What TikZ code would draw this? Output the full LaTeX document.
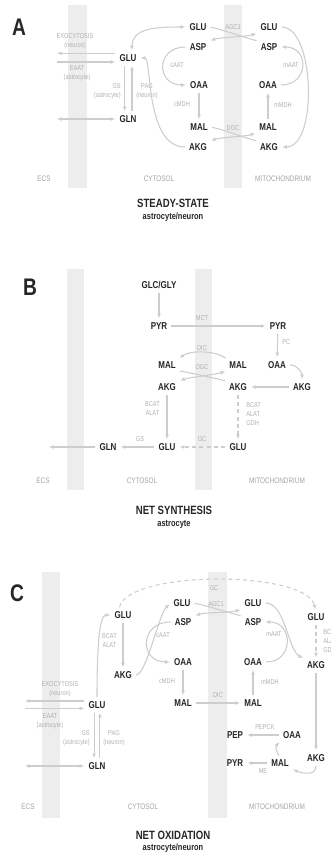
\documentclass[tikz,border=0pt]{standalone}
\usepackage{fontspec}
\setmainfont{Liberation Sans}[FakeStretch=0.8]
\usepackage{xcolor}
\usetikzlibrary{arrows.meta}
\definecolor{bandgray}{HTML}{EDEDED}
\definecolor{linegray}{HTML}{CDCDCD}
\definecolor{enzgray}{HTML}{B0B0B0}
\definecolor{compgray}{HTML}{A4A4A4}
\definecolor{metblack}{HTML}{262626}

\begin{document}
\begin{tikzpicture}[
        x=0.75pt, y=-0.75pt,
        met/.style={inner sep=1.5pt, text=metblack, font=\fontsize{7.5}{8}\selectfont\bfseries},
        enz/.style={inner sep=0pt, text=enzgray, align=center, font=\fontsize{5.3}{6.75}\selectfont},
        comp/.style={inner sep=0pt, text=compgray, font=\fontsize{6}{7}\selectfont},
        band/.style={fill=bandgray, draw=none},
        letter/.style={inner sep=0pt, text=metblack, font=\fontsize{18}{20}\selectfont\bfseries},
        heading/.style={inner sep=0pt, text=metblack, font=\fontsize{9}{10}\selectfont\bfseries},
        subheading/.style={inner sep=0pt, text=metblack, font=\fontsize{7}{8}\selectfont\bfseries},
        arrow/.style={->, >={Latex[length=3.5pt,width=3pt]}, draw=linegray, line width=0.8pt, shorten >=1.5pt, shorten <=1.5pt},
        link/.style={draw=linegray, line width=0.8pt, shorten >=1.5pt, shorten <=1.5pt},
        dashline/.style={dash pattern=on 3pt off 2.5pt}
    ]
        \useasboundingbox (0,0) rectangle (331,855);

        % Steady-state
        \fill[band] (68,5) rectangle (87,188);
        \fill[band] (224,5) rectangle (242,188);
        \node[letter] (labA) at (19,27) {A};
        \node[met] (gluA) at (128,58) {GLU};
        \node[met] (glnA) at (128,119) {GLN};
        \node[met] (cgluA) at (198,27) {GLU};
        \node[met] (caspA) at (198,47) {ASP};
        \node[met] (coaaA) at (199,85) {OAA};
        \node[met] (cmalA) at (199,127) {MAL};
        \node[met] (cakgA) at (198,147) {AKG};
        \node[met] (mgluA) at (269,27) {GLU};
        \node[met] (maspA) at (269,47) {ASP};
        \node[met] (moaaA) at (268,85) {OAA};
        \node[met] (mmalA) at (268,127) {MAL};
        \node[met] (makgA) at (269,147) {AKG};
        \coordinate (ecsA) at (55,58);
        \node[enz] (exoA) at (75,41) {EXOCYTOSIS\\(neuron)};
        \node[enz] (eaatA) at (77,73) {EAAT\\(astrocyte)};
        \node[enz, align=right, anchor=east] (gsA) at (121,91) {GS\\(astrocyte)};
        \node[enz, anchor=west] (pagA) at (136,91) {PAG\\(neuron)};
        \node[enz] (caatA) at (177,65) {cAAT};
        \node[enz] (agcA) at (233,27) {AGC1};
        \node[enz] (cmdhA) at (182,104) {cMDH};
        \node[enz] (dgcA) at (233,128) {DGC};
        \node[enz] (mmdhA) at (283,105) {mMDH};
        \node[enz] (maatA) at (291,65) {mAAT};
        \node[comp] (ecsTA) at (44,179) {ECS};
        \node[comp] (cytTA) at (159,179) {CYTOSOL};
        \node[comp] (mitTA) at (283,179) {MITOCHONDRIUM};
        \node[heading] (titA) at (173,203) {STEADY-STATE};
        \node[subheading] (subA) at (173,217) {astrocyte/neuron};

        \draw[arrow] ([yshift=3.5pt]gluA.west) -- ([yshift=3.5pt]ecsA);
        \draw[arrow] ([yshift=-3pt]ecsA) -- ([yshift=-3pt]gluA.west);
        \draw[arrow, <->] (ecsA |- glnA) -- (glnA.west);
        \draw[arrow] ([xshift=-2.5pt]gluA.south) -- ([xshift=-2.5pt]glnA.north);
        \draw[arrow] ([xshift=3pt]glnA.north) -- ([xshift=3pt]gluA.south);
        \draw[arrow, <->] ([xshift=3pt]gluA.north) .. controls +(0,-24) and +(-32,0) .. (cgluA.west);
        \draw[arrow] (cakgA.west) .. controls (145,147) and (152,58) .. (gluA.east);
        \draw[arrow] (caspA.west) .. controls +(-32,0) and +(-32,0) .. (coaaA.west);
        \draw[link] (cgluA.east) .. controls +(12,2) and +(-12,-3) .. (maspA.north west);
        \draw[arrow, <->] (caspA.north east) .. controls +(12,-4) and +(-12,4) .. (mgluA.south west);
        \draw[arrow] (coaaA) -- (cmalA);
        \draw[arrow] (mmalA) -- (moaaA);
        \draw[link] (cmalA.east) .. controls +(12,2) and +(-12,-3) .. (makgA.north west);
        \draw[arrow, <->] (cakgA.north east) .. controls +(12,-4) and +(-12,4) .. (mmalA.south west);
        \draw[arrow] (moaaA.east) .. controls +(30,0) and +(30,0) .. (maspA.east);
        \draw[arrow] (mgluA.east) .. controls (315,27) and (318,147) .. (makgA.east);

        % Net synthesis
        \fill[band] (67,269) rectangle (84,490);
        \fill[band] (195,269) rectangle (212,490);
        \node[letter] (labB) at (30,287) {B};
        \node[met] (glcB) at (159,285) {GLC/GLY};
        \node[met] (cpyrB) at (159,326) {PYR};
        \node[met] (mpyrB) at (278,326) {PYR};
        \node[met] (moaaB) at (277,365) {OAA};
        \node[met] (rakgB) at (302,387) {AKG};
        \node[met] (cmalB) at (167,365) {MAL};
        \node[met] (mmalB) at (238,365) {MAL};
        \node[met] (cakgB) at (167,387) {AKG};
        \node[met] (makgB) at (238,387) {AKG};
        \node[met] (mgluB) at (238,447) {GLU};
        \node[met] (cgluB) at (167,447) {GLU};
        \node[met] (glnB) at (108,447) {GLN};
        \coordinate (ecsB) at (47,447);
        \node[enz] (mctB) at (202,318) {MCT};
        \node[enz, anchor=west] (pcB) at (282,342) {PC};
        \node[enz] (dicB) at (202,348) {DIC};
        \node[enz] (ogcB) at (202,367) {OGC};
        \node[enz, anchor=east] (bcatB) at (160,409) {BCAT\\ALAT};
        \node[enz, align=left, anchor=west] (mbcatB) at (246,414) {BCAT\\ALAT\\GDH};
        \node[enz] (gcB) at (202,439) {GC};
        \node[enz] (gsB) at (140,439) {GS};
        \node[comp] (ecsTB) at (43,481) {ECS};
        \node[comp] (cytTB) at (142,481) {CYTOSOL};
        \node[comp] (mitTB) at (277,481) {MITOCHONDRIUM};
        \node[heading] (titB) at (174,510) {NET SYNTHESIS};
        \node[subheading] (subB) at (174,524) {astrocyte};

        \draw[arrow] (glcB) -- (cpyrB);
        \draw[arrow] (cpyrB) -- (mpyrB);
        \draw[arrow] (mpyrB) -- (moaaB);
        \draw[arrow] (moaaB.east) .. controls +(10,0) and +(0,-8) .. (rakgB.north);
        \draw[arrow] (rakgB) -- (makgB);
        \draw[arrow] (mmalB.north west) .. controls +(-12,-9) and +(12,-9) .. (cmalB.north east);
        \draw[link] (cmalB.south east) .. controls +(12,2) and +(-12,-3) .. (makgB.north west);
        \draw[arrow, <->] (cakgB.north east) .. controls +(12,-4) and +(-12,4) .. (mmalB.south west);
        \draw[arrow] (cakgB) -- (cgluB);
        \draw[arrow, dashline] (makgB) -- (mgluB);
        \draw[arrow, dashline] (mgluB) -- (cgluB);
        \draw[arrow] (cgluB) -- (glnB);
        \draw[arrow] (glnB) -- (ecsB);

        % Net oxidation
        \fill[band] (42,572) rectangle (60,818);
        \fill[band] (208,572) rectangle (227,818);
        \node[letter] (labC) at (17,593) {C};
        \node[met] (gluC) at (97,705) {GLU};
        \node[met] (glnC) at (97,766) {GLN};
        \node[met] (tgluC) at (123,615) {GLU};
        \node[met] (takgC) at (123,675) {AKG};
        \node[met] (cgluC) at (182,603) {GLU};
        \node[met] (caspC) at (183,622) {ASP};
        \node[met] (coaaC) at (183,662) {OAA};
        \node[met] (cmalC) at (183,703) {MAL};
        \node[met] (mgluC) at (253,603) {GLU};
        \node[met] (maspC) at (253,622) {ASP};
        \node[met] (moaaC) at (253,662) {OAA};
        \node[met] (mmalC) at (253,703) {MAL};
        \node[met] (rgluC) at (316,617) {GLU};
        \node[met] (rakgC) at (316,665) {AKG};
        \node[met] (pepC) at (235,735) {PEP};
        \node[met] (boaaC) at (292,735) {OAA};
        \node[met] (pyrC) at (235,763) {PYR};
        \node[met] (bmalC) at (280,763) {MAL};
        \node[met] (bakgC) at (316,758) {AKG};
        \coordinate (ecsC) at (23,705);
        \node[enz] (exoC) at (60,689) {EXOCYTOSIS\\(neuron)};
        \node[enz] (eaatC) at (50,721) {EAAT\\(astrocyte)};
        \node[enz, align=right, anchor=east] (gsC) at (90,738) {GS\\(astrocyte)};
        \node[enz, anchor=west] (pagC) at (103,738) {PAG\\(neuron)};
        \node[enz, anchor=east] (bcatC) at (117,641) {BCAT\\ALAT};
        \node[enz] (caatC) at (163,635) {cAAT};
        \node[enz] (gcC) at (214,588) {GC};
        \node[enz] (agcC) at (216,604) {AGC1};
        \node[enz] (maatC) at (274,634) {mAAT};
        \node[enz, align=left, anchor=west] (rbcatC) at (323,641) {BCAT\\ALAT\\GDH};
        \node[enz] (cmdhC) at (167,681) {cMDH};
        \node[enz] (mmdhC) at (270,682) {mMDH};
        \node[enz] (dicC) at (218,695) {DIC};
        \node[enz] (pepckC) at (265,727) {PEPCK};
        \node[enz] (meC) at (263,771) {ME};
        \node[comp] (ecsTC) at (28,807) {ECS};
        \node[comp] (cytTC) at (143,807) {CYTOSOL};
        \node[comp] (mitTC) at (277,807) {MITOCHONDRIUM};
        \node[heading] (titC) at (173,835) {NET OXIDATION};
        \node[subheading] (subC) at (173,848) {astrocyte/neuron};

        \draw[arrow] ([yshift=3pt]gluC.west) -- ([yshift=3pt]ecsC);
        \draw[arrow] ([yshift=-2.5pt]ecsC) -- ([yshift=-2.5pt]gluC.west);
        \draw[arrow, <->] (ecsC |- glnC) -- (glnC.west);
        \draw[arrow] ([xshift=-2.2pt]gluC.south) -- ([xshift=-2.2pt]glnC.north);
        \draw[arrow] ([xshift=2.2pt]glnC.north) -- ([xshift=2.2pt]gluC.south);
        \draw[arrow] (gluC.north) .. controls (97,625) and (102,615) .. (tgluC.west);
        \draw[arrow] (tgluC) -- (takgC);
        \draw[arrow] (takgC.east) .. controls +(12,0) and +(-12,10) .. (cgluC.west);
        \draw[arrow] (caspC.west) .. controls +(-33,0) and +(-33,0) .. (coaaC.west);
        \draw[arrow, dashline] ([xshift=-3pt]tgluC.north) .. controls (128,570) and (305,570) .. (rgluC.north);
        \draw[link] (cgluC.east) .. controls +(12,2) and +(-12,-3) .. (maspC.north west);
        \draw[arrow, <->] (caspC.north east) .. controls +(12,-4) and +(-12,4) .. (mgluC.south west);
        \draw[arrow] (moaaC.east) .. controls +(30,0) and +(30,0) .. (maspC.east);
        \draw[arrow] (mgluC.east) .. controls (285,603) and (288,650) .. (rakgC.north west);
        \draw[arrow, dashline] (rgluC) -- (rakgC);
        \draw[arrow] (coaaC) -- (cmalC);
        \draw[arrow] (mmalC) -- (moaaC);
        \draw[arrow] (cmalC) -- (mmalC);
        \draw[arrow] (rakgC) -- (bakgC);
        \draw[arrow] (bakgC.south) .. controls +(0,12) and +(12,5) .. (bmalC.south east);
        \draw[arrow] (bmalC.north) .. controls +(-5,-8) and +(-5,5) .. (boaaC.south west);
        \draw[arrow] (boaaC) -- (pepC);
        \draw[arrow] (bmalC) -- (pyrC);
    \end{tikzpicture}
\end{document}
